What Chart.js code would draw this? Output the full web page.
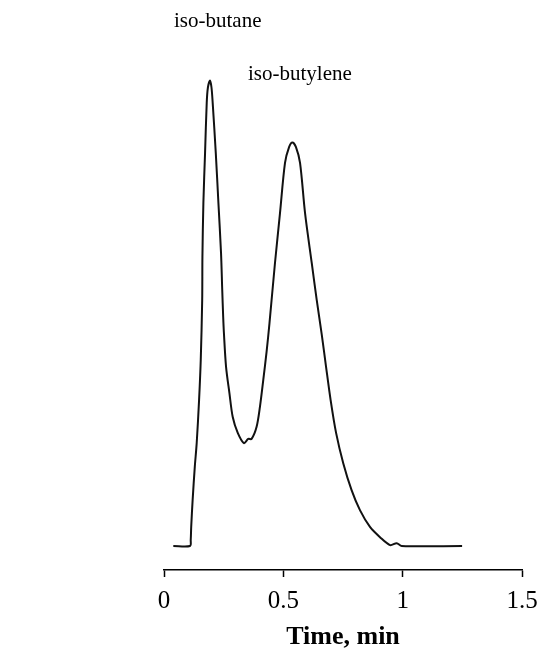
<!DOCTYPE html>
<html>
<head>
<meta charset="utf-8">
<script src="https://cdn.jsdelivr.net/npm/chart.js@4"></script>
<style>
  body { margin: 0; background: #fff; }
  canvas { display: block; }
</style>
</head>
<body>
<canvas id="chromChart" width="540" height="650"></canvas>
<script>
// retention time (min) and detector signal (peak 1 = 100)
const times = [
  0.039, 0.109, 0.112, 0.114, 0.120, 0.129, 0.137, 0.147, 0.154, 0.160,
  0.161, 0.165, 0.172, 0.179, 0.184, 0.193, 0.199, 0.204, 0.217, 0.228,
  0.239, 0.244, 0.248, 0.251, 0.260, 0.274, 0.288, 0.309, 0.335, 0.353,
  0.367, 0.388, 0.402, 0.416, 0.430, 0.442, 0.465, 0.486, 0.507, 0.524,
  0.538, 0.553, 0.570, 0.591, 0.619, 0.640, 0.661, 0.679, 0.698,
  0.721, 0.751, 0.786, 0.821, 0.863, 0.905, 0.947, 0.975, 0.996, 1.249
];
const signal = [
  0, 0, 1.3, 4.1, 9.9, 17.0, 22.1, 31.4, 40.0, 52.8,
  62.1, 73.7, 84.4, 95.2, 98.5, 100.0, 98.5, 95.2, 84.4, 73.7,
  62.9, 55.0, 49.2, 45.8, 38.5, 32.9, 27.7, 24.3, 22.1, 23.0,
  23.0, 25.6, 29.9, 35.7, 41.8, 47.9, 60.8, 71.5, 82.3, 85.7,
  86.7, 85.7, 82.3, 71.5, 60.8, 52.8, 45.4, 38.5, 31.4,
  24.3, 17.8, 12.0, 7.7, 4.1, 1.9, 0.2, 0.6, 0, 0
];
const xTicks = [0, 0.5, 1, 1.5];

// peak labels: text, time, signal
const peakNames = ['iso-butane', 'iso-butylene'];
const peakLabelX = [0.042, 0.352];
const peakLabelY = [112.6, 101.4];

const serif = '"Liberation Serif", "Times New Roman", Times, serif';
const ctx = document.getElementById('chromChart');

const peakLabels = {
  id: 'peakLabels',
  afterDatasetsDraw(chart) {
    const { ctx, scales } = chart;
    ctx.save();
    ctx.fillStyle = '#000';
    ctx.font = '21px ' + serif;
    ctx.textAlign = 'left';
    ctx.textBaseline = 'middle';
    peakNames.forEach((name, i) => {
      ctx.fillText(name, scales.x.getPixelForValue(peakLabelX[i]), scales.y.getPixelForValue(peakLabelY[i]));
    });
    ctx.restore();
  }
};

const chromChart = new Chart(ctx, {
  type: 'line',
  data: {
    datasets: [{
      data: times.map((t, i) => ({ x: t, y: signal[i] })),
      borderColor: '#111',
      borderWidth: 2,
      pointRadius: 0,
      tension: 0.3,
      fill: false
    }]
  },
  options: {
    responsive: false,
    animation: false,
    layout: { padding: { left: 164, right: 18, top: 10, bottom: 0 } },
    plugins: { legend: { display: false }, tooltip: { enabled: false } },
    scales: {
      x: {
        type: 'linear',
        min: 0,
        max: 1.5,
        afterBuildTicks: (axis) => { axis.ticks = xTicks.map(v => ({ value: v })); },
        afterFit: (axis) => {
          axis.height = 80;
          axis.paddingLeft = 0;
          axis.paddingRight = 0;
        },
        border: { display: true, color: '#000', width: 1.5 },
        grid: { drawOnChartArea: false, drawTicks: true, tickLength: 7, color: '#000', tickWidth: 1.5 },
        ticks: {
          color: '#000',
          padding: 12,
          maxRotation: 0,
          font: { family: serif, size: 25, lineHeight: 1 },
          callback: (v) => String(v)
        },
        title: {
          display: true,
          text: 'Time, min',
          color: '#000',
          padding: { top: 0, bottom: 0 },
          font: { family: serif, size: 26, weight: 'bold', lineHeight: 1 }
        }
      },
      y: {
        display: false,
        min: -5.156,
        max: 115.15
      }
    }
  },
  plugins: [peakLabels]
});
</script>
</body>
</html>
